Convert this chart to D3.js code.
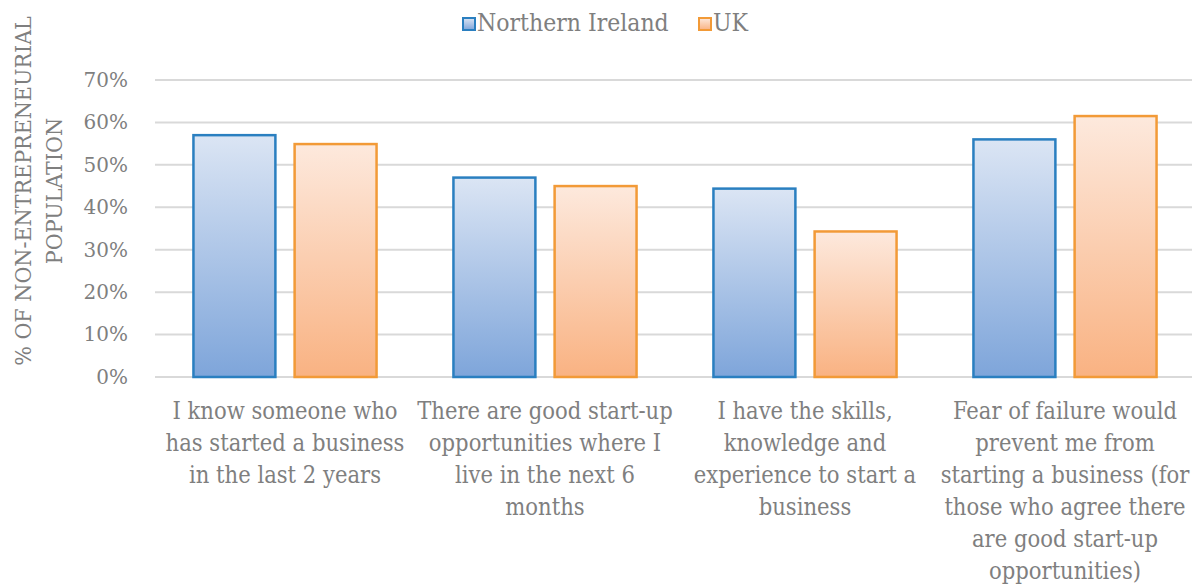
<!DOCTYPE html>
<html>
<head>
<meta charset="utf-8">
<script src="https://cdn.jsdelivr.net/npm/d3@7"></script>
<style>
  body { margin: 0; background: #fff; }
  svg text { font-family: "DejaVu Serif", "Liberation Serif", serif; fill: #7f7f7f; }
  svg text.cond { font-family: "DejaVu Serif Condensed", "DejaVu Serif", serif; font-stretch: condensed; }
</style>
</head>
<body>
<div id="chart"></div>
<script>
  // categories, already split into the lines shown under each group
  const categories = [
    ['I know someone who', 'has started a business', 'in the last 2 years'],
    ['There are good start-up', 'opportunities where I', 'live in the next 6', 'months'],
    ['I have the skills,', 'knowledge and', 'experience to start a', 'business'],
    ['Fear of failure would', 'prevent me from', 'starting a business (for', 'those who agree there', 'are good start-up', 'opportunities)']
  ]
  const seriesNames = ['Northern Ireland', 'UK']
  const northernIreland = [57, 47, 44.4, 56]
  const uk = [54.9, 45, 34.3, 61.5]
  const yTicks = [0, 10, 20, 30, 40, 50, 60, 70]

  const W = 1192, H = 584
  const margin = { top: 80, right: 0, bottom: 207, left: 155 }
  const width = W - margin.left - margin.right
  const height = H - margin.top - margin.bottom

  const colours = {
    'Northern Ireland': { stroke: '#2a7fc0', top: '#dbe5f4', bottom: '#7ea5da' },
    'UK': { stroke: '#f29a37', top: '#fde9dd', bottom: '#f9b282' }
  }

  const svg = d3.select('#chart').append('svg')
    .attr('width', W)
    .attr('height', H)

  const defs = svg.append('defs')
  seriesNames.forEach(function(s, i) {
    const g = defs.append('linearGradient')
      .attr('id', 'grad' + i)
      .attr('x1', 0).attr('y1', 0).attr('x2', 0).attr('y2', 1)
    g.append('stop').attr('offset', '0%').attr('stop-color', colours[s].top)
    g.append('stop').attr('offset', '100%').attr('stop-color', colours[s].bottom)
  })

  const xScale = d3.scaleBand()
    .domain(d3.range(categories.length))
    .range([0, 1040])

  // bar ~82px, gap ~19px inside a 260px band
  const xInner = d3.scaleBand()
    .domain(seriesNames)
    .range([0, xScale.bandwidth()])
    .paddingInner(0.19)
    .paddingOuter(0.38)

  const yScale = d3.scaleLinear()
    .domain([0, 70])
    .range([height, 0])

  const plot = svg.append('g')
    .attr('transform', `translate(${margin.left}, ${margin.top})`)

  // gridlines
  plot.append('g')
    .selectAll('line')
    .data(yTicks)
    .join('line')
    .attr('x1', 0)
    .attr('x2', width)
    .attr('y1', d => yScale(d))
    .attr('y2', d => yScale(d))
    .attr('stroke', '#d9d9d9')
    .attr('stroke-width', 2)

  // y tick labels
  const yAxis = plot.append('g')
    .call(d3.axisLeft(yScale).tickValues(yTicks).tickFormat(d => d + '%').tickSize(0).tickPadding(27))
  yAxis.select('.domain').remove()
  yAxis.selectAll('text')
    .attr('font-size', 20)
    .attr('font-family', '"DejaVu Serif", serif')
    .attr('fill', '#7f7f7f')

  // bars
  const table = categories.map((c, i) => ({ i: i, values: [northernIreland[i], uk[i]] }))
  const groups = plot.append('g')
    .selectAll('g')
    .data(table)
    .join('g')
    .attr('transform', d => `translate(${xScale(d.i)}, 0)`)

  groups.selectAll('rect')
    .data(d => d.values.map((v, k) => ({ series: seriesNames[k], k: k, value: v })))
    .join('rect')
    .attr('x', d => xInner(d.series))
    .attr('width', xInner.bandwidth())
    .attr('y', d => yScale(d.value))
    .attr('height', d => height - yScale(d.value))
    .attr('fill', d => `url(#grad${d.k})`)
    .attr('stroke', d => colours[d.series].stroke)
    .attr('stroke-width', 2.5)

  // category labels
  plot.append('g')
    .selectAll('text')
    .data(categories)
    .join('text')
    .attr('class', 'cond')
    .attr('text-anchor', 'middle')
    .attr('font-size', 23.5)
    .attr('transform', (d, i) => `translate(${xScale(i) + xScale.bandwidth() / 2}, ${height + 42})`)
    .selectAll('tspan')
    .data(d => d)
    .join('tspan')
    .attr('x', 0)
    .attr('y', (d, j) => j * 32)
    .text(d => d)

  // y axis title
  const yTitle = svg.append('text')
    .attr('class', 'cond')
    .attr('text-anchor', 'middle')
    .attr('font-size', 23)
    .attr('transform', 'translate(0, 191) rotate(-90)')
  yTitle.append('tspan').attr('x', 0).attr('y', 31).text('% OF NON-ENTREPRENEURIAL')
  yTitle.append('tspan').attr('x', 0).attr('y', 62).text('POPULATION')

  // legend
  const legendX = [463, 699]
  const legend = svg.append('g')
    .selectAll('g')
    .data(seriesNames)
    .join('g')
    .attr('transform', (d, i) => `translate(${legendX[i]}, 18)`)
  legend.append('rect')
    .attr('width', 12)
    .attr('height', 12)
    .attr('fill', (d, i) => `url(#grad${i})`)
    .attr('stroke', d => colours[d].stroke)
    .attr('stroke-width', 2)
  legend.append('text')
    .attr('class', 'cond')
    .attr('x', 14)
    .attr('y', 13)
    .attr('font-size', 24.5)
    .text(d => d)
</script>
</body>
</html>
